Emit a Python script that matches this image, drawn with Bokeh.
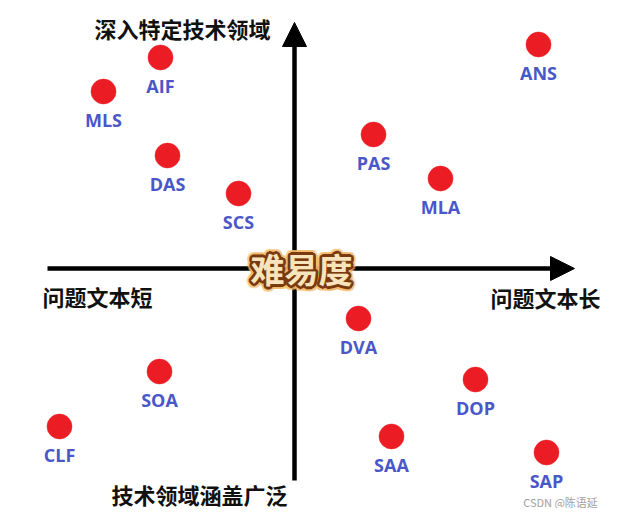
import math
from bokeh.plotting import figure
from bokeh.models import Range1d, Arrow, NormalHead, ColumnDataSource
from bokeh.core.properties import value
from bokeh.embed import file_html
from bokeh.resources import INLINE

# Data: x = question text length (short -> long), y = domain specificity (broad -> specific)
names = ["AIF", "MLS", "DAS", "SCS", "PAS", "MLA", "ANS", "DVA", "SOA", "CLF", "DOP", "SAA", "SAP"]
text_len = [-134, -191, -127, -56, 79, 146, 244, 64, -135, -235, 181, 97, 252]
specificity = [211, 177, 113, 75, 134, 90, 224, -50, -103, -158, -111, -168, -184]

axis_top = "深入特定技术领域"
axis_bottom = "技术领域涵盖广泛"
axis_left = "问题文本短"
axis_right = "问题文本长"
center_title = "难易度"
watermark = "CSDN @陈语延"

p = figure(width=611, height=508, output_backend="svg", toolbar_location=None,
           x_range=Range1d(-294, 317), y_range=Range1d(-240, 268),
           min_border=0, min_border_left=0, min_border_right=0,
           min_border_top=0, min_border_bottom=0)
p.axis.visible = False
p.grid.visible = False
p.outline_line_color = None
p.background_fill_color = "white"
p.border_fill_color = "white"

cjk = value("Noto Sans CJK SC")

# axes with arrows
h = Arrow(x_start=-247, y_start=0, x_end=280, y_end=0, line_width=4.5, line_color="black",
          start=None, end=NormalHead(size=24, fill_color="black", line_color="black", line_width=1),
          level="underlay")
v = Arrow(x_start=0, y_start=-212, x_end=0, y_end=246, line_width=4.5, line_color="black",
          start=None, end=NormalHead(size=24, fill_color="black", line_color="black", line_width=1),
          level="underlay")
p.add_layout(h)
p.add_layout(v)

src = ColumnDataSource(dict(x=text_len, y=specificity, name=names))
p.scatter("x", "y", source=src, size=25, fill_color="#ec1c24", line_color="#ec1c24", line_width=0.5)
p.text("x", "y", text="name", source=src, y_offset=28, text_align="center", text_baseline="middle",
       text_font=value("Open Sans"), text_font_style="bold", text_font_size="18px",
       text_color="#4a57c8")

# axis labels
lab = ColumnDataSource(dict(
    x=[-112, -95, -197, 251],
    y=[241, -225, -27, -28],
    t=[axis_top, axis_bottom, axis_left, axis_right]))
p.text("x", "y", text="t", source=lab, text_align="center", text_baseline="middle",
       text_font=cjk, text_font_style="bold", text_font_size="22px", text_color="#111111")

# center title with outline
cx, cy = [7], [0]
for r, col, a in [(5, "#f3b866", 0.55), (2.6, "#7a3a10", 1.0)]:
    for k in range(16):
        ang = 2 * math.pi * k / 16
        p.text(x=cx, y=cy, text=[center_title], x_offset=r * math.cos(ang), y_offset=r * math.sin(ang),
               text_align="center", text_baseline="middle", text_font=cjk, text_font_style="bold",
               text_font_size="34px", text_color=col, text_alpha=a)
p.text(x=cx, y=cy, text=[center_title], text_align="center", text_baseline="middle",
       text_font=cjk, text_font_style="bold", text_font_size="34px", text_color="#f8e4bc")

# watermark
p.text(x=[266], y=[-233], text=[watermark], text_align="center", text_baseline="middle",
       text_font=cjk, text_font_size="11px", text_color="#a0a0a0")

open("out.html", "w").write(file_html(p, INLINE))
